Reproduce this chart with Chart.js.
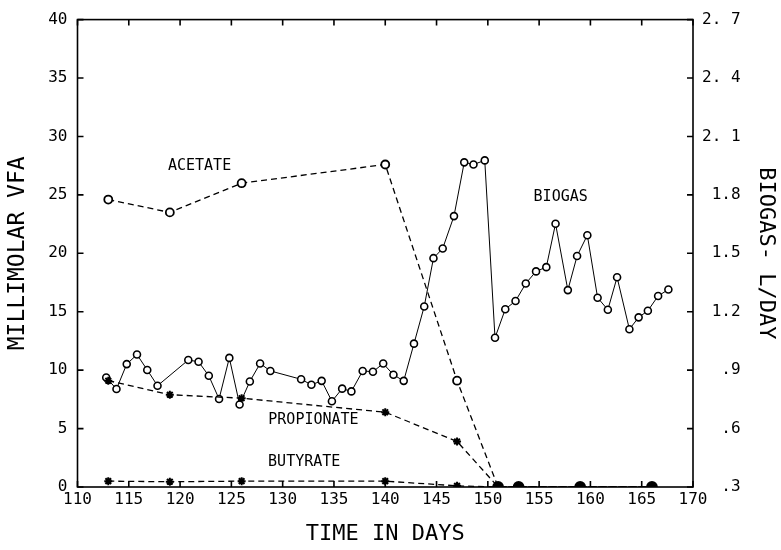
<!DOCTYPE html>
<html>
<head>
<meta charset="utf-8">
<script src="https://cdn.jsdelivr.net/npm/chart.js@4.4.1/dist/chart.umd.min.js"></script>
<style>
  html, body { margin: 0; padding: 0; background: #fff; }
  #wrap { width: 781px; height: 550px; position: relative; }
</style>
</head>
<body>
<div id="wrap"><canvas id="vfa_chart"></canvas></div>
<script>
// tick labels
const dayTicks = [110, 115, 120, 125, 130, 135, 140, 145, 150, 155, 160, 165, 170];
const vfaTicks = [0, 5, 10, 15, 20, 25, 30, 35, 40];
const biogasTicks = [0.3, 0.6, 0.9, 1.2, 1.5, 1.8, 2.1, 2.4, 2.7];
const biogasTickLabels = ['  .3', '  .6', '  .9', ' 1.2', ' 1.5', ' 1.8', '2. 1', '2. 4', '2. 7'];

// VFA samples (millimolar)
const vfaDays = [113, 119, 126, 140, 147, 151, 153, 159, 166];
const acetate = [24.6, 23.5, 26.0, 27.6, 9.1, 0, 0, 0, 0];
const propionate = [9.1, 7.9, 7.6, 6.4, 3.9, 0, 0, 0, 0];
const butyrate = [0.5, 0.45, 0.5, 0.5, 0.1, 0, 0, 0, 0];

// biogas (L/day)
const biogasDays = [112.8, 113.8, 114.8, 115.8, 116.8, 117.8, 120.8, 121.8, 122.8, 123.8,
  124.8, 125.8, 126.8, 127.8, 128.8, 131.8, 132.8, 133.8, 134.8, 135.8,
  136.7, 137.8, 138.8, 139.8, 140.8, 141.8, 142.8, 143.8, 144.7, 145.6,
  146.7, 147.7, 148.6, 149.7, 150.7, 151.7, 152.7, 153.7, 154.7, 155.7,
  156.6, 157.8, 158.7, 159.7, 160.7, 161.7, 162.6, 163.8, 164.7, 165.6,
  166.6, 167.6];
const biogasLPerDay = [0.862, 0.803, 0.931, 0.980, 0.901, 0.820, 0.952, 0.943, 0.871, 0.752,
  0.963, 0.724, 0.842, 0.934, 0.896, 0.853, 0.825, 0.845, 0.740, 0.805,
  0.791, 0.896, 0.892, 0.934, 0.876, 0.845, 1.036, 1.227, 1.475, 1.525,
  1.691, 1.967, 1.956, 1.977, 1.066, 1.213, 1.255, 1.345, 1.407, 1.429,
  1.652, 1.311, 1.486, 1.593, 1.272, 1.210, 1.377, 1.110, 1.171, 1.205,
  1.281, 1.314];

// names written inside the plot (day, millimolar)
const seriesNames = ['ACETATE', 'BIOGAS', 'PROPIONATE', 'BUTYRATE'];
const nameDays = [121.9, 157.1, 133.0, 132.1];
const nameVals = [27.5, 24.8, 5.7, 2.1];

const FONT = "'DejaVu Sans Mono', monospace";

function pts(xs, ys){
    return xs.map((x, i) => ({x: x, y: ys[i]}))
}

// frame with inward ticks + in-plot names
const ramka = {
    id: 'ramka',
    beforeDatasetsDraw(chart){
        const {ctx, chartArea: a, scales} = chart
        ctx.save()
        ctx.strokeStyle = '#000'
        ctx.lineWidth = 1.6
        ctx.strokeRect(a.left, a.top, a.right - a.left, a.bottom - a.top)
        ctx.beginPath()
        dayTicks.forEach(d => {
            const x = scales.x.getPixelForValue(d)
            ctx.moveTo(x, a.top); ctx.lineTo(x, a.top + 6)
            ctx.moveTo(x, a.bottom); ctx.lineTo(x, a.bottom - 6)
        })
        vfaTicks.forEach(v => {
            const y = scales.y.getPixelForValue(v)
            ctx.moveTo(a.left, y); ctx.lineTo(a.left + 6, y)
        })
        biogasTicks.forEach(v => {
            const y = scales.y2.getPixelForValue(v)
            ctx.moveTo(a.right, y); ctx.lineTo(a.right - 6, y)
        })
        ctx.stroke()
        ctx.restore()
    },
    afterDatasetsDraw(chart){
        const {ctx, scales} = chart
        ctx.save()
        ctx.fillStyle = '#000'
        ctx.font = '15px ' + FONT
        ctx.textAlign = 'center'
        ctx.textBaseline = 'middle'
        seriesNames.forEach((t, i) => {
            ctx.fillText(t, scales.x.getPixelForValue(nameDays[i]), scales.y.getPixelForValue(nameVals[i]))
        })
        ctx.restore()
    }
}

const ctx = document.getElementById('vfa_chart').getContext('2d')

const zeroFill = acetate.map(v => v === 0 ? '#000' : '#fff')
const zeroRadius = acetate.map(v => v === 0 ? 5 : 4)
const starRadius = propionate.map((v, i) => i < 5 ? 4 : 0)

new Chart(ctx, {
    type: 'line',
    data: {
        datasets: [
            {
                label: 'Acetate',
                data: pts(vfaDays, acetate),
                yAxisID: 'y',
                borderColor: '#000',
                borderWidth: 1.3,
                borderDash: [6, 4],
                pointStyle: 'circle',
                pointRadius: zeroRadius,
                pointBackgroundColor: zeroFill,
                pointBorderColor: '#000',
                pointBorderWidth: 1.8
            },
            {
                label: 'Propionate',
                data: pts(vfaDays, propionate),
                yAxisID: 'y',
                borderColor: '#000',
                borderWidth: 1.3,
                borderDash: [6, 4],
                pointStyle: 'star',
                pointRadius: starRadius,
                pointBorderColor: '#000',
                pointBorderWidth: 2
            },
            {
                label: 'Butyrate',
                data: pts(vfaDays, butyrate),
                yAxisID: 'y',
                borderColor: '#000',
                borderWidth: 1.3,
                borderDash: [6, 4],
                pointStyle: 'star',
                pointRadius: starRadius,
                pointBorderColor: '#000',
                pointBorderWidth: 2
            },
            {
                label: 'Biogas',
                data: pts(biogasDays, biogasLPerDay),
                yAxisID: 'y2',
                borderColor: '#000',
                borderWidth: 1,
                pointStyle: 'circle',
                pointRadius: 3.5,
                pointBackgroundColor: '#fff',
                pointBorderColor: '#000',
                pointBorderWidth: 1.6
            }
        ]
    },
    options: {
        responsive: true,
        maintainAspectRatio: false,
        animation: false,
        layout: {padding: {top: 13, left: 0, right: 0, bottom: 0}},
        plugins: {
            legend: {display: false},
            tooltip: {enabled: false}
        },
        scales: {
            x: {
                type: 'linear',
                min: 110,
                max: 170,
                grid: {display: false, drawTicks: false},
                border: {display: false},
                afterBuildTicks: s => { s.ticks = dayTicks.map(v => ({value: v})) },
                afterFit: s => { s.height = 63 },
                ticks: {
                    color: '#000',
                    font: {family: FONT, size: 16},
                    padding: 3,
                    maxRotation: 0,
                    callback: v => String(v)
                },
                title: {
                    display: true,
                    text: 'TIME IN DAYS',
                    color: '#000',
                    font: {family: FONT, size: 22},
                    padding: {top: 0, bottom: 3}
                }
            },
            y: {
                position: 'left',
                min: 0,
                max: 40,
                grid: {display: false, drawTicks: false},
                border: {display: false},
                afterBuildTicks: s => { s.ticks = vfaTicks.map(v => ({value: v})) },
                afterFit: s => { s.width = 77.5 },
                ticks: {
                    color: '#000',
                    font: {family: FONT, size: 16},
                    padding: 10,
                    callback: v => String(v)
                },
                title: {
                    display: true,
                    text: 'MILLIMOLAR VFA',
                    color: '#000',
                    font: {family: FONT, size: 23},
                    padding: {top: 4, bottom: 0}
                }
            },
            y2: {
                position: 'right',
                min: 0.3,
                max: 2.7,
                grid: {display: false, drawTicks: false},
                border: {display: false},
                afterBuildTicks: s => { s.ticks = biogasTicks.map(v => ({value: v})) },
                afterFit: s => { s.width = 88 },
                ticks: {
                    color: '#000',
                    font: {family: FONT, size: 16},
                    padding: 9,
                    crossAlign: 'near',
                    callback: (v, i) => biogasTickLabels[i]
                },
                title: {
                    display: true,
                    text: 'BIOGAS- L/DAY',
                    color: '#000',
                    font: {family: FONT, size: 22},
                    padding: {top: 2, bottom: 0}
                }
            }
        }
    },
    plugins: [ramka]
})
</script>
</body>
</html>
